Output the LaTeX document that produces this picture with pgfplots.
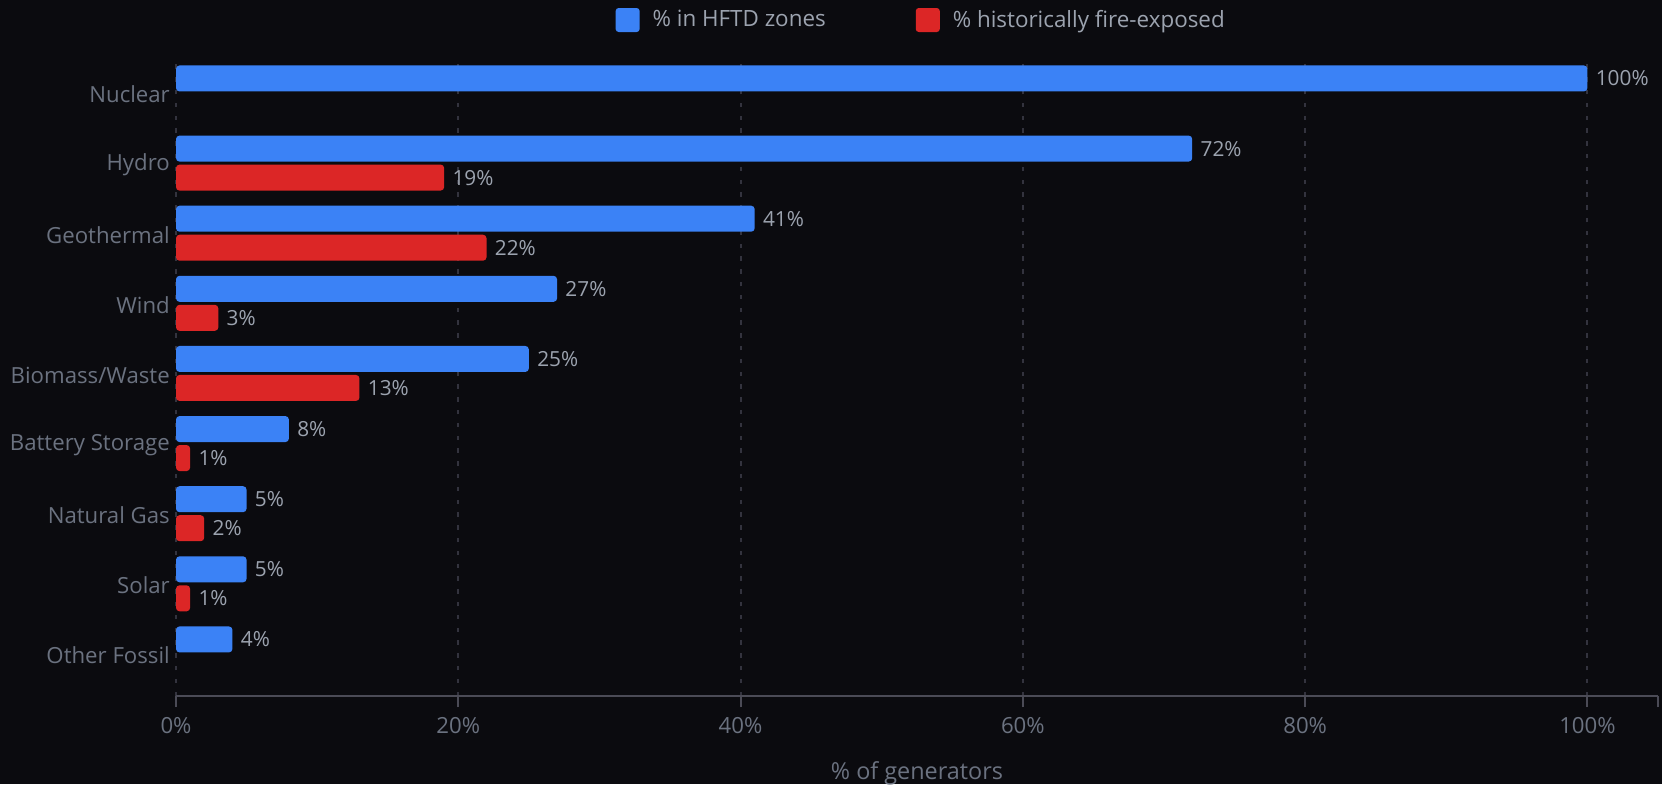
\documentclass[border=0pt]{standalone}
\usepackage{pgfplots}
\pgfplotsset{compat=1.18}
\usepackage{pgfplotstable}
\usepackage{fontspec}
\setmainfont{Open Sans}
\definecolor{bgcol}{HTML}{0B0B0F}
\definecolor{hblue}{HTML}{3B82F6}
\definecolor{hred}{HTML}{DC2626}
\definecolor{lblcol}{HTML}{6B7280}
\definecolor{valcol}{HTML}{9CA3AF}
\definecolor{gridcol}{HTML}{33333E}
\definecolor{axcol}{HTML}{4B4B56}

\pgfplotstableread{
y x
8 100
7 72
6 41
5 27
4 25
3 8
2 5
1 5
0 4
}\hftd
\pgfplotstableread{
y x
7 19
6 22
5 3
4 13
3 1
2 2
1 1
}\fire

\begin{document}
\begin{tikzpicture}
\fill[bgcol] (0,0) rectangle (831pt,392pt);
\useasboundingbox (0,0) rectangle (831pt,392pt);
\begin{axis}[
  at={(88pt,44pt)}, anchor=south west,
  scale only axis, width=741pt, height=318pt,
  xmin=0, xmax=105, ymin=-0.6, ymax=8.47,
  clip=false,
  axis lines*=left,
  axis line style={-},
  x axis line style={draw=axcol, line width=1pt},
  y axis line style={draw=none},
  xtick={0,20,40,60,80,100},
  xticklabel={\pgfmathprintnumber{\tick}\%},
  extra x ticks={105}, extra x tick labels={}, extra x tick style={grid=none},
  tick align=outside, major tick length=5.5pt,
  x tick style={draw=axcol, line width=1pt},
  ytick={0,...,8},
  yticklabels={Other Fossil,Solar,Natural Gas,Battery Storage,Biomass/Waste,Wind,Geothermal,Hydro,Nuclear},
  y tick style={draw=none},
  xmajorgrids, major grid style={gridcol, dash pattern=on 2.2pt off 4.2pt, line width=1pt},
  /pgf/number format/assume math mode=true,
  /pgf/number format/.cd, fixed, precision=0, /pgfplots/.cd,
  ticklabel style={font=\fontsize{11.1}{13}\selectfont, text=lblcol},
  yticklabel style={inner sep=0pt, anchor=east, xshift=2.6pt, yshift=-0.8pt},
  xticklabel style={inner sep=0pt, anchor=north, yshift=-5pt},
  xlabel={\% of generators},
  xlabel style={at={(axis description cs:0.5,0)}, anchor=center, yshift=-38.5pt, font=\fontsize{11.7}{14}\selectfont, text=lblcol},
  xbar, bar width=13pt,
  nodes near coords={\pgfmathprintnumber{\pgfplotspointmeta}\%},
  point meta=x,
  every node near coord/.append style={font=\fontsize{10.4}{12}\selectfont, text=valcol, anchor=west, inner sep=0pt, xshift=4pt},
  legend columns=2,
  legend style={at={(0.5,1)}, anchor=center, xshift=2.6pt, yshift=20pt, draw=none, fill=none,
    font=\fontsize{11.2}{13}\selectfont, text=valcol, inner sep=0pt,
    /tikz/every odd column/.append style={column sep=4.5pt},
    /tikz/every even column/.append style={column sep=43pt}},
  legend image code/.code={\fill[#1, rounded corners=1.5pt] (0pt,-6pt) rectangle (12pt,6pt);},
]
\addplot[fill=hblue, draw=none, rounded corners=1.75pt, bar shift=7.25pt] table[x=x, y=y] {\hftd};
\addlegendentry{\% in HFTD zones}
\addplot[fill=hred, draw=none, rounded corners=1.75pt, bar shift=-7.25pt] table[x=x, y=y] {\fire};
\addlegendentry{\% historically fire-exposed}
\end{axis}
\end{tikzpicture}
\end{document}
